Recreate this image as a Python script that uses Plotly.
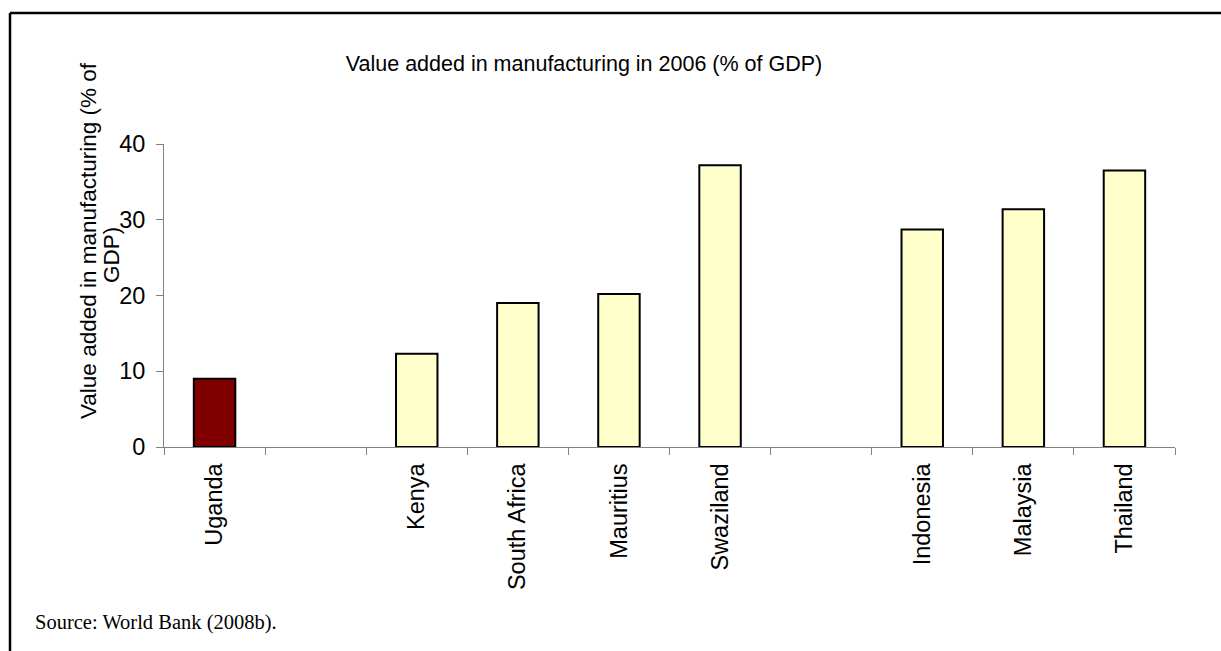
import plotly.graph_objects as go

# Category slots along the x axis (blank slots separate the country groups)
slots = ["Uganda", " ", "Kenya", "South Africa", "Mauritius", "Swaziland",
         "  ", "Indonesia", "Malaysia", "Thailand"]
countries = ["Uganda", "Kenya", "South Africa", "Mauritius", "Swaziland",
             "Indonesia", "Malaysia", "Thailand"]
values = [9.0, 12.3, 19.0, 20.2, 37.2, 28.7, 31.4, 36.5]
colors = ["#800000", "#FFFFCC", "#FFFFCC", "#FFFFCC", "#FFFFCC",
          "#FFFFCC", "#FFFFCC", "#FFFFCC"]
ytick_vals = [0, 10, 20, 30, 40]

W, H = 1221, 651
L, R, T, B = 164, 46, 144, 204
pw, ph = W - L - R, H - T - B

def px_x(x):
    return (x - L) / pw

def px_y(y):
    return (H - B - y) / ph

SANS = "Liberation Sans, Arial, sans-serif"
TICK_SIZE = 23.5

fig = go.Figure(go.Bar(
    x=countries, y=values,
    marker=dict(color=colors, line=dict(color="black", width=2)),
    width=0.41,
))

fig.update_layout(
    width=W, height=H,
    margin=dict(l=L, r=R, t=T, b=B),
    plot_bgcolor="white", paper_bgcolor="white",
    showlegend=False,
    font=dict(family=SANS, size=21, color="black"),
    title=dict(
        text="Value added in manufacturing in 2006 (% of GDP)",
        x=584 / W, xanchor="center", xref="container",
        y=1 - 63 / H, yanchor="middle", yref="container",
        font=dict(family=SANS, size=21.5, color="black"),
    ),
    xaxis=dict(
        type="category", categoryorder="array", categoryarray=slots,
        range=[-0.5, len(slots) - 0.5],
        tickson="boundaries", ticks="outside", ticklen=7, tickcolor="#808080",
        tickangle=-90, showline=True, linecolor="#808080", linewidth=1,
        showgrid=False, zeroline=False, ticklabelstandoff=6,
        tickfont=dict(family=SANS, size=TICK_SIZE, color="black"),
    ),
    yaxis=dict(
        range=[0, 40], tickvals=ytick_vals, ticks="outside", ticklen=7,
        tickcolor="#808080", showline=True, linecolor="#808080", linewidth=1,
        showgrid=False, zeroline=False, ticklabelstandoff=6,
        tickfont=dict(family=SANS, size=TICK_SIZE, color="black"),
    ),
    shapes=[
        # frame around the figure (top and left edges)
        dict(type="line", xref="paper", yref="paper",
             x0=px_x(10), x1=px_x(W + 5), y0=px_y(13), y1=px_y(13),
             line=dict(color="black", width=2.5)),
        dict(type="line", xref="paper", yref="paper",
             x0=px_x(10), x1=px_x(10), y0=px_y(13), y1=px_y(H + 5),
             line=dict(color="black", width=2.5)),
    ],
    annotations=[
        # y-axis title, set as two rotated lines
        dict(text="Value added in manufacturing (% of",
             xref="paper", yref="paper", x=px_x(88), y=px_y(241),
             xanchor="center", yanchor="middle", textangle=-90,
             showarrow=False,
             font=dict(family=SANS, size=22.5, color="black")),
        dict(text="GDP)",
             xref="paper", yref="paper", x=px_x(111), y=px_y(255),
             xanchor="center", yanchor="middle", textangle=-90,
             showarrow=False,
             font=dict(family=SANS, size=22.5, color="black")),
        dict(text="Source: World Bank (2008b).",
             xref="paper", yref="paper", x=px_x(33), y=px_y(622),
             xanchor="left", yanchor="middle", showarrow=False,
             font=dict(family="Liberation Serif, Times New Roman, serif",
                       size=20.5, color="black")),
    ],
)

fig.write_html("out.html")
